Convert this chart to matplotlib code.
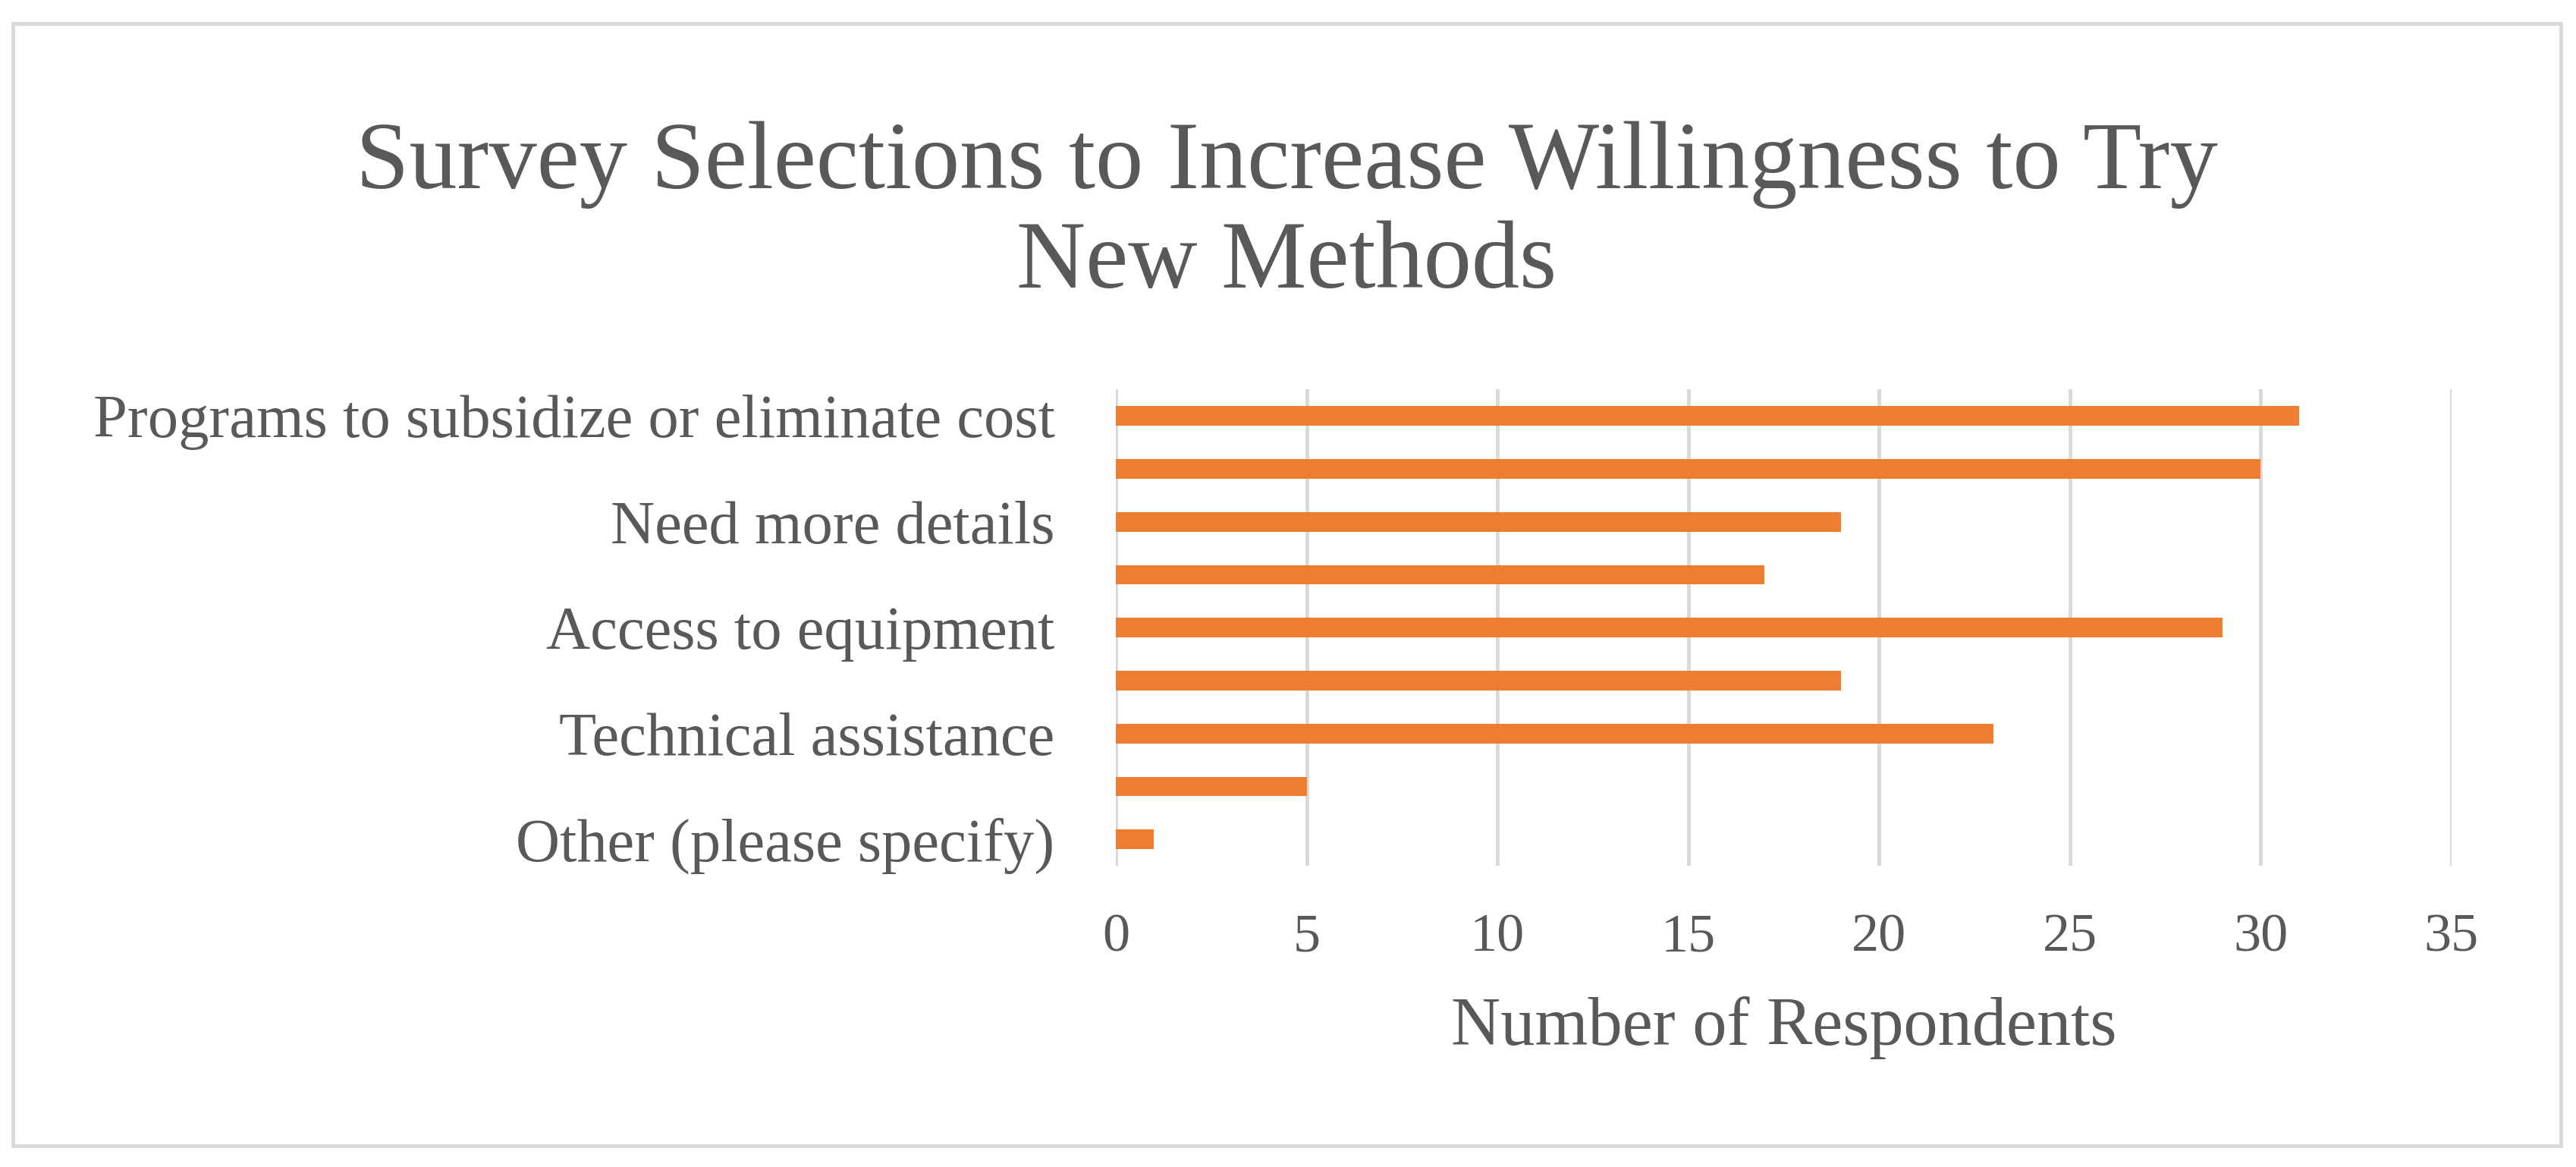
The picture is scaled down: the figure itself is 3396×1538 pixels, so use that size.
import matplotlib
matplotlib.use("Agg")
import matplotlib.pyplot as plt
from matplotlib.patches import Rectangle

# data (only every other category label is printed on the chart)
categories = ['Programs to subsidize or eliminate cost', '',
              'Need more details', '',
              'Access to equipment', '',
              'Technical assistance', '',
              'Other (please specify)']
respondents = [31, 30, 19, 17, 29, 19, 23, 5, 1]
xticks = [0, 5, 10, 15, 20, 25, 30, 35]

txt = '#595959'
bar_col = '#ED7D31'
grid_col = '#D9D9D9'
plt.rcParams['font.family'] = ['Liberation Serif', 'DejaVu Serif']

fig = plt.figure(figsize=(33.96, 15.38), dpi=100)
ax = fig.add_axes([0.4332, 0.258, 0.5185, 0.4083])

ypos = list(range(len(categories)))
ax.barh(ypos, respondents, height=0.37, color=bar_col, zorder=3)
ax.set_ylim(len(categories) - 0.5, -0.5)
ax.set_xlim(0, 35)
ax.set_xticks(xticks)
ax.set_xticklabels([str(t) for t in xticks], fontsize=52, color=txt)
ax.set_yticks(ypos)
ax.set_yticklabels(categories, fontsize=58, color=txt)
ax.tick_params(axis='both', length=0)
ax.tick_params(axis='y', pad=58)
ax.tick_params(axis='x', pad=45)
ax.grid(axis='x', color=grid_col, linewidth=3.5, zorder=0)
for s in ax.spines.values():
    s.set_visible(False)

ax.set_xlabel('Number of Respondents', fontsize=65, color=txt, labelpad=32)

fig.text(0.4995, 0.816, 'Survey Selections to Increase Willingness to Try\nNew Methods',
         ha='center', va='center', fontsize=91, color=txt, linespacing=1.18)

# outer chart border
fig.patches.append(Rectangle((0.005, 0.018), 0.989, 0.962, transform=fig.transFigure,
                             fill=False, edgecolor=grid_col, linewidth=3.5))

fig.savefig('out.png', dpi=100)
